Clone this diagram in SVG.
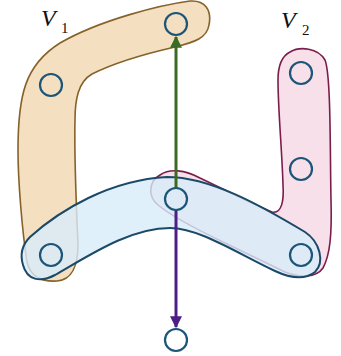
<svg xmlns="http://www.w3.org/2000/svg" width="341" height="356" viewBox="0 0 341 356">
<style>
.node{fill:none;stroke:#1b5577;stroke-width:2.2}
.lbl{font-family:"Liberation Serif","DejaVu Serif",serif;fill:#111}
</style>
<defs>
<marker id="ag" viewBox="0 0 10 10" refX="9" refY="5" markerWidth="4" markerHeight="4" orient="auto"><path d="M0 0 L10 5 L0 10 Z" fill="#3b6a22"/></marker>
<marker id="ap" viewBox="0 0 10 10" refX="9" refY="5" markerWidth="4" markerHeight="4" orient="auto"><path d="M0 0 L10 5 L0 10 Z" fill="#4b1f86"/></marker>
</defs>
<g id="hyperedge-V1">
<path d="M60 43 C100 20 160 5 190 1 C205 0 212 10 209 25 C207 38 195 42 175 47 C140 55 110 65 92 74 C78 82 75 100 75 120 C74 160 77 220 78 245 C78 265 72 280 57 281 C40 282 30 275 27 262 C22 230 18 180 18 150 C18 95 25 65 60 43 Z" fill="#f5dfc1" stroke="#85622a" stroke-width="1.6"/>
</g>
<g id="hyperedge-V2">
<path d="M290 52 C300 46 318 48 325 60 C331 75 330 150 331 200 C332 235 330 255 323 268 C316 278 300 278 285 272 L225 243 C200 231 170 215 158 205 C148 197 148 182 160 175 C170 168 185 170 200 178 C225 190 255 205 272 212 C282 214 284 200 283 185 C282 150 278 110 278 80 C278 65 282 56 290 52 Z" fill="#f7e0ea" stroke="#7b1d4b" stroke-width="1.6"/>
</g>
<g id="hyperedge-blue">
<path d="M30 237 C60 210 110 180 167 177 C210 177 260 205 305 232 C320 242 325 262 315 272 C305 280 290 278 275 271 C240 255 200 228 170 228 C130 228 90 255 55 275 C40 283 27 280 23 265 C20 255 22 245 30 237 Z" fill="#d8ecfa" fill-opacity="0.8" stroke="none"/>
<path d="M30 237 C60 210 110 180 167 177 C210 177 260 205 305 232 C320 242 325 262 315 272 C305 280 290 278 275 271 C240 255 200 228 170 228 C130 228 90 255 55 275 C40 283 27 280 23 265 C20 255 22 245 30 237 Z" fill="none" stroke="#1a4a68" stroke-width="2"/>
</g>
<g id="labels">
<text class="lbl" x="41" y="26" font-size="24" font-style="italic">V</text>
<text class="lbl" x="61" y="33" font-size="15">1</text>
<text class="lbl" x="281" y="28" font-size="24" font-style="italic">V</text>
<text class="lbl" x="302" y="35" font-size="15">2</text>
</g>
<g id="connectors">
<line x1="176" y1="188" x2="176" y2="37" stroke="#3b6a22" stroke-width="3" marker-end="url(#ag)"/>
<line x1="176" y1="210" x2="176" y2="327" stroke="#4b1f86" stroke-width="3" marker-end="url(#ap)"/>
</g>
<g id="n-top"><circle class="node" cx="176" cy="24" r="11"/></g>
<g id="n-v1a"><circle class="node" cx="51" cy="85" r="11"/></g>
<g id="n-v2a"><circle class="node" cx="301" cy="73" r="11"/></g>
<g id="n-v2b"><circle class="node" cx="301" cy="169" r="11"/></g>
<g id="n-center"><circle class="node" cx="176" cy="199" r="11"/></g>
<g id="n-left"><circle class="node" cx="51" cy="255" r="11"/></g>
<g id="n-right"><circle class="node" cx="301" cy="255" r="11"/></g>
<g id="n-bottom"><circle class="node" cx="176" cy="340" r="11"/></g>
</svg>
